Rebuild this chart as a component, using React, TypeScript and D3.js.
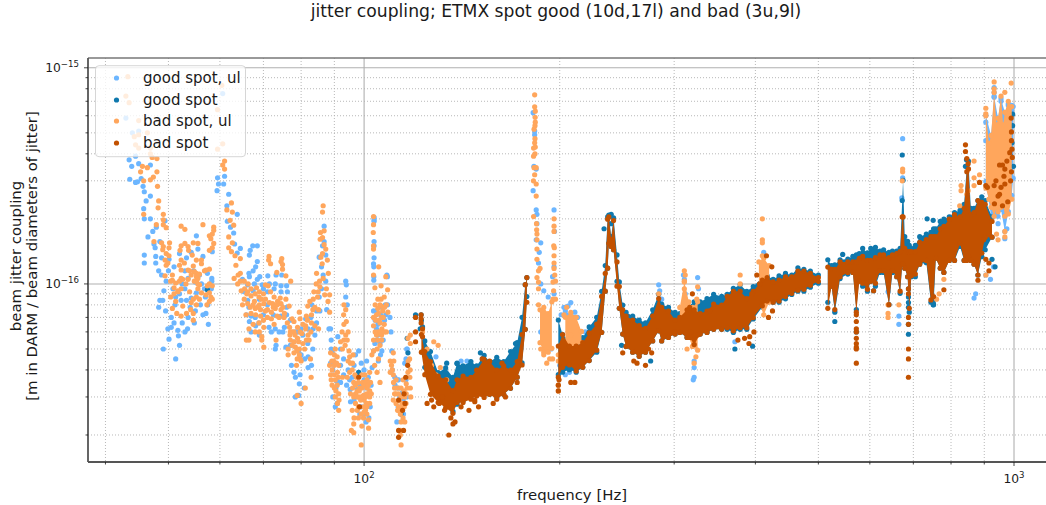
import React from "react";
import * as d3 from "d3";

type P = [number, number];
type B = [number, number, number];

const chartTitle = "jitter coupling; ETMX spot good (10d,17l) and bad (3u,9l)";
const xAxisLabel = "frequency [Hz]";
const yAxisLines = ["beam jitter coupling", "[m in DARM / beam diameters of jitter]"];
const legendNames = ["good spot, ul", "good spot", "bad spot, ul", "bad spot"];
const xDomain = [37.6, 1120];
const yDomain = [1.5e-17, 1.11e-15];
const unit = 1e-16;

// values: [frequency Hz, coupling in 1e-16]
const goodUlPoints: P[] = [
[43,5.85],[45,5.1],[44,5],[43.5,3.75],[43.9,3.5],[44.5,3.9],[45,3.6],[43.6,3.05],[44.5,2.95],[44.8,2.97],[45.4,3.07],[46.9,3.55],[45.7,2.83],[45.9,2.67],[46.9,2.55],[46.2,2.42],[45.8,2.23],[45.9,2],[46.9,2],[49.4,1.96],[47.9,1.83],[47.3,1.75],[46.5,1.65],[47.5,1.53],[47.7,1.47],[48.5,1.57],[45.9,1.36],[47.8,1.34],[48.8,1.32],[50.1,1.3],[52,1.38],[53.3,1.32],[54.2,1.4],[55.2,1.67],[55.5,1.45],[56.5,1.34],[58.4,1.41],
[60.6,7.6],[59.5,3.1],[59.7,2.9],[59.4,2.7],[61,3.15],[60.8,2.9],[61.9,2.6],[61.5,2.3],[63.8,2.1],[61.6,1.95],[63,1.72],[62.3,1.83],[63.2,1.53],[64.5,1.46],[63.8,1.39],[66.8,1.43],[66.6,1.36],[67.4,1.5],[68.5,1.5],[68.5,1.27],
[85.3,1.33],[86.3,1.5],[86.8,1.85],[86.8,1.57],[87.3,1.36],[103.6,1.57],[103.6,1.32],[103.6,1.95],
[49.1,.5],[51.3,.45],[50.1,.555],[49.9,.62],[51.8,.575],[50.5,.63],[50.5,.7],[48.3,.78],[48.5,.84],[49,.84],[49.2,.93],[49.6,1.03],[53,.6],[51.7,.61],[53.6,.7],[51.2,.8],[51.3,.87],[52.3,.84],[53.3,.84],[54.2,.86],[57.1,.73],[57.6,.65],[58.3,1.06],[58.3,1.03],[55.2,.91],[56.2,1],[56.8,.95],[57.4,1.12],[53.6,1.06],[54.7,1.15],[48.8,1.1],[48.3,1.15],[47.8,1.25],[45.9,1.25],[52.5,1],[55,1.02],[57,.87],[50,1.15],[51,1.2],
[50.8,.95],[52,.9],[53,.95],[54,.78],[55,.75],[56,.8],[56.5,.72],[57.5,.8],[58.2,.95],[51,.66],[52.5,.66],[53.5,.62],[52,.52],[54.8,.66],[55.8,1.1],[53,1.15],[49.5,.75],
[68.1,1.2],[66.6,1.08],[69.1,1.08],[71.1,1.09],[73.2,1.1],[74.7,1.1],[67.8,1],[69.7,.99],[66.2,.99],[65.4,.92],[66.2,.84],[67,.71],[65.9,.72],[66.6,.67],[68.1,.64],[68.9,.66],[71,.92],[74.5,.92],[76.2,.92],[72.7,.95],[74.5,.71],[75.4,.63],[73.2,.52],[73,.5],[71.4,.63],[75.8,.51],[77.3,.42],[78,.39],[78.4,.37],[79.7,.38],[79.5,.345],[80.9,.33],[82,.41],[78.4,.3],[79.3,.305],[78,.54],[79.3,.49],[81.9,.53],[83.4,.5],[84,.58],[82.8,.7],[81.3,.69],[83.1,.8],[85.3,.87],[86,1.2],[87.3,1.03],[87.6,.76],[88.3,.62],[88.8,.62],[91.1,.57],[93.7,1.03],[93.9,.99],[93.7,.87],[94.2,.8],[89.3,.49],[88.8,.43],[90.9,.355],[90.9,.28],[90.3,.27],[95.3,.285],[98.1,.49],[98.1,.39],[100.9,.44],[102.9,.41],[101.7,.24],[100.7,.23],[95.9,.37],[97.6,.325],[95.2,.325],[67.5,.93],[69,.85],[71,.8],[72.5,.72],[76,.78],[77,.68],[79,.6],[80.5,.58],[82,.62],[80,.47],[84.5,.66],[92,.5],[93,.45],[89.5,.4],[92,.42],[94.5,.4],[98.8,.34],[100,.36],[101,.33],[96.5,.29],[99,.27],
[65,1.05],[66.5,1.12],[67.5,1.15],[68.5,1.05],[70,.95],[71.5,1],[73,1],[74.5,.98],[76,.98],[75,.6],[76,.72],[77,.52],[78.5,.6],[80,.62],[81,.45],[82,.46],[83,.42],[83.5,.62],[84.5,.75],[85.5,.75],[86,.95],[86.5,1.1],[70,.72],[72,.6],[73,.62],[74,.6],[68,.7],[66.5,.78],[67,.6],[69,.58],[89,.55],[89,.5],[90,.43],[89.5,.3],[90.5,.33],[92,.35],[93,.38],[94,.34],[95,.36],[96.5,.42],[97,.47],[99,.43],[100,.4],[101.5,.37],[102.5,.34],[100,.25],[98.5,.25],[102.2,.27],[104,.68],[105,.58],[106.5,.78],[108,.72],[106,.47],[110.5,.4],[111.5,.37],[113,.36],[112.8,.33],[114.8,.29],[113.8,.26],[116,.36],[116.3,.3],
[103.4,1.24],[108.4,1.1],[107.8,.8],[103.4,.75],[104.6,.75],[108.7,.8],[109.6,.7],[110,.6],[104.6,.55],[105.8,.53],[106.5,.49],[103.9,.53],[107,.55],[105.2,.44],[110.3,.49],[103.4,.49],[105,.65],[106,.6],[107.5,.68],[104.5,.62],[106,.72],
[103.6,2.03],[103.6,1.98],[103.6,1.5],[103.5,1.2],[103.5,1.08],[103.5,1.04],[108.6,1.08],
[111.6,.34],[112.3,.23],[112.6,.36],[114.6,.315],[116,.45],[116.3,.5],[116.5,.5],[115.5,.43],[113.5,.3],[112.8,.27],[115,.25],
[134,.385],[141,.44],[144,.44],[153,.44],[126,.42],[129,.46],
[182,6.2],[183,5.1],[183,4.9],[182.5,3.5],[182,2.7],[184,3.4],[184,2.2],[184.5,2.1],[184.5,1.9],[184,1.6],[187,1.55],[185.5,1.25],[187,1],[189,.93],[192,.87],[186,1.4],
[196,2.2],[196.3,1.75],[195,1.08],[196,1.2],[196,.9],[188,.75],[190,.55],[192,.6],[187,.6],[194,.5],
[200,.47],[208,.82],[203,.78],[206,.79],[211,.74],[209,.68],[215,.6],[219,.6],[200,.42],[204,.38],[207,.39],[205,.72],[212,.64],[201,.72],[204,.75],[210,.7],[213,.7],
[284,.99],[285,.93],[287,.85],[311,1.05],[310,1.1],[312,.9],[326,1.07],[322,.44],[322,.41],[322,.37],[321,.36],[327,.95],
[530,.75],[372,.54],[674,4.7],[674,3.1],[672,2.5],[665,.71],[665,.65],[640,.92],[905,1.1],[920,1.05],[930,1.2],[868,.86],[873,.9],[410,1.25],[412,1.4],[414,1.15]
];

const goodUlBand: B[] = [[905,2.9,6.2],[922,2,5],[932,2.05,7.6],[945,2,6],[955,2.15,7.4],[968,1.7,6.4],[980,2.1,7],[992,2.5,6.5],[997,3,6.8]];
const goodUlTop: P[] = [[932,8.1],[932,7.7],[932,7.3],[955,7],[980,6.7],[992,6.7],[905,5.6],[905,4.6],[968,1.62],[975,1.8],[945,1.9]];

const goodBandA: B[] = [[123,.47,.65],[124,.4,.56],[126.5,.34,.5],[130,.29,.4],[133.5,.27,.42],[137,.25,.38],[139,.27,.44],[142,.28,.43],[146,.29,.45],[149,.3,.43],[153,.3,.48],[156,.3,.45],[160,.29,.47],[164,.3,.45],[168,.32,.5],[172,.36,.55],[175,.42,.72],[177,.6,1.02],[178,.85,1.1]];
const goodBandB: B[] = [[199,.37,.7],[202,.38,.6],[207,.39,.56],[212,.38,.55],[217,.4,.58],[222,.43,.65],[228,.47,.72],[232,.58,.95],[235,.9,1.25],[237,1.15,2.1],[238,1.5,2.14],[240,1.45,1.7],[242,1.4,2.08],[245,1,1.4],[247,.75,1.05],[250,.57,.82],[253,.5,.76],[259,.47,.73],[265,.45,.7],[271,.47,.68],[278,.53,.78],[284,.59,.92],[287,.53,.83],[294,.55,.8],[301,.57,.76],[306,.58,.75],[314,.55,.8],[322,.52,.85],[329,.57,.85],[337,.58,.88],[345,.6,.92],[355,.6,.9],[362,.6,.92],[370,.58,.98],[379,.6,1.02],[388,.6,.95],[397,.67,1],[410,.76,1.1],[417,.8,1.12],[426,.8,1.08],[435,.8,1.12],[445,.83,1.15],[455,.87,1.13],[465,.9,1.22],[475,.9,1.2],[486,.94,1.18],[500,.98,1.13]];
const goodBandC: B[] = [[517,.8,1.33],[524,.95,1.25],[530,.72,1.26],[540,1.03,1.33],[555,1.08,1.34],[565,1.1,1.38],[572,.74,1.4],[578,1.05,1.42],[585,.95,1.5],[595,.9,1.43],[602,1,1.5],[612,.95,1.52],[622,1.1,1.46],[630,1.1,1.48],[642,.78,1.44],[650,1.1,1.46],[660,1.05,1.46],[668,.88,1.5],[673,1.2,2.5],[675,1.2,3.1],[679,1.15,1.7],[686,1.05,1.62],[690,.72,1.55],[695,1.05,1.5],[705,1.05,1.55],[716,1.2,1.7],[733,1.22,1.75],[745,.8,1.78],[752,.78,1.85],[758,1.28,1.85],[770,1.15,2],[780,1.1,2.05],[795,1.25,2.1],[810,1.25,2.2],[826,1.45,2.25],[838,1.25,2.4],[846,1.3,3.6],[851,1.3,3.8],[858,1.25,2.3],[868,1.2,2.3],[880,1.07,2.5],[892,1.3,2.6],[903,1.4,2.5],[925,1.6,2.1]];
const goodPoints: P[] = [[57.4,.94],[98.1,.39],[114,.25],[116.8,.48],[116.5,.56],[120,.72],[122.4,.72],[122.5,.68],[141,.38],[152,.45],[139,.43],[134,.43],[151,.48],[161,.43],[169,.48],[171,.53],[530,.67],[372,.5],[396,.515],[608,.93],[751,.85],[751,.8],[751,.82],[688,.95],[688,.87],[688,.82],[688,.78],[688,.65],[688,.585],[572,.6],[673,3.95],[845,3.75],[735,2],[751,1.97],[842,3.5],[762,1.75],[935,1.2],[925,1.3],[988,3.9],[993,4.5],[995,6.1],[995,5.4],[998,3.5],[122,.62],[234,1.8],[240,1.9],[545,1.37],[606,1.4],[240,2.1],[276,.44],[249,.52]];

const badUlPoints: P[] = [
[43.3,9.1],[43,7.4],[43.5,6.9],[45,5.7],[46.4,5],[45,4.9],[44.3,4.8],[44.5,4.4],[45,4.25],[46.9,4.25],[46.9,4],[48,3.8],[47.2,3.85],[45.6,3.5],[46.4,3.45],[45.3,3.3],[48,3.3],[45.8,3],[46.9,3.03],[47.4,3.12],[48.1,2.83],[48.3,2.42],[48.2,2.25],[45.8,2.1],[49.1,2.1],[49.1,1.98],[47.9,1.88],[49.1,1.88],[49.6,1.82],[47.5,1.57],[48.8,1.55],[50.2,1.55],[49.1,1.49],[50.1,1.47],[49,1.44],[49.6,1.38],[50.1,1.35],[49.4,1.29],[52.3,1.85],[53,1.79],[56.5,1.88],[53,1.54],[52.3,1.5],[53.6,1.49],[52.1,1.43],[53.7,1.43],[54.6,1.55],[55.5,1.54],[54.4,1.36],[56.2,1.29],[52.3,1.29],[55.2,1.29],[58.7,1.83],[58.7,1.77],[58.4,1.7],[57.8,1.67],[58.1,1.62],[58.7,1.54],[58.4,1.47],[57.8,1.43],
[60.4,8.3],[59.5,6.4],[59.5,4.2],[60.6,4.45],[61,3.7],[60.6,3.55],[61,3.4],[61.5,2.2],[62.5,2.37],[62.7,2.15],[62.2,1.97],[63,1.87],[61.9,1.65],[62.7,1.55],[61.9,1.47],[62.5,1.41],[63.3,1.35],[64.5,1.31],[71.4,1.34],[71.3,1.29],[74.7,1.31],[74.5,1.27],
[86.5,2.3],[86.3,2.15],[85.7,1.73],[86.8,1.76],[86.3,1.64],[85.6,1.61],[86.8,1.52],[87.3,1.45],[86.3,1.38],[85.8,1.33],[87.8,1.29],[103.4,2.05],[103.4,1.88],[103.3,1.73],[103.4,1.5],[103.4,1.45],
[49.6,1.22],[49.9,1.25],[50.7,1.1],[49.4,1.09],[52,1.22],[52.9,1.25],[53.9,1.15],[55.2,1.12],[56.2,1.24],[56.8,1.15],[57.8,1.17],[54.6,1.21],[50.7,1.04],[52,1.03],[52.6,1.05],[53.6,1.05],[55.2,1.03],[55.8,.99],[55.5,1.06],[57.8,1],[58.4,.98],[51,.96],[51.7,.92],[52.3,.95],[53.9,.92],[54.6,.85],[55.2,.87],[55.8,.85],[58.1,.87],[57.8,.83],[57.3,.8],[57.1,.89],[51.3,.83],[50.7,.77],[51.5,.73],[52.3,.71],[53.3,.73],[54.1,.76],[54.6,.73],[54.6,.68],[50.4,.87],[52.6,.79],[55.5,.95],
[50.4,1.03],[51.3,1.01],[52.3,1.06],[53.2,1],[54.2,1.1],[54.8,1.03],[55.5,1],[55.2,1.08],[52.3,1.16],[53.6,1.16],[54.8,1.14],[55.8,1.11],[57.1,1.16],[51.7,.93],[51,.9],[54.2,.82],[55.2,.8],[56.2,.91],[57.8,.91],[57.4,.98],[58.4,.85],
[63.1,1.06],[63.5,1.22],[64.5,1.12],[65.4,1.03],[63.9,1],[64.7,.93],[66.2,.92],[65.4,.85],[65,.8],[66.2,.81],[65.8,.72],[67,.73],[68.1,.72],[66.5,.62],[65.9,.55],[66.5,.55],[67.8,.83],[68.9,.87],[70.1,.81],[70.5,.99],[71.8,.92],[72.7,.87],[74.5,.81],[73.6,.83],[75.8,.85],[72.3,.81],[71,.76],[69.3,.76],[69.3,.71],[68.9,.66],[70.1,.63],[69.6,.57],[69.6,.55],[70.1,.51],[72.7,.65],[73.2,.55],[71.8,1.24],[74.9,1.23],[74.9,1.17],[75.8,1.09],[77.1,1.03],[73.4,1.13],[74,.7],[75.4,.73],[76.7,.79],[77.5,.69],[78,.67],[79.5,.74],[79.7,.69],[76.9,.58],[78,.54],[78.4,.51],[79.3,.54],[76.4,.5],[78.9,.45],[79.7,.45],[76.4,.47],[80.2,.59],[81.3,.62],[82.8,.6],[81.3,.64],[84,.64],[85.1,.62],[81.9,.79],[83.4,.76],[85.1,.76],[83.7,.92],[84.4,1],[85.4,1.03],[84.5,1.12],[86.2,1.24],[88.1,1.12],[87.5,.95],[88.5,.89],[88,.83],[80,.44],[82.7,.45],[82.9,.37],[81.2,.33],[78.9,.305],[80,.28],[77.5,.52],[78.8,.49],[79.5,.5],[77,.6],[78,.6],[79,.56],[80.5,.53],[81.5,.55],[82,.58],[83,.66],[83,.72],[81.5,.71],[82.5,.83],[68,.77],[69,.8],[70.5,.75],[72,.74],[73,.77],[74.5,.76],[73.5,.71],[72,.69],[71,.7],[70,.68],[67.5,.65],[68,.6],[69,.6],[66.8,.78],[68,.9],
[66,.9],[67,.88],[67.5,.8],[68.5,.78],[69.5,.85],[70.5,.85],[71.5,.82],[72.5,.78],[73.5,.8],[74.3,.86],[75,.78],[75.3,.7],[76.2,.66],[76.8,.63],[77.5,.6],[78.3,.58],[79,.63],[79.7,.6],[80.5,.65],[81.8,.68],[82.3,.55],[81,.5],[79.5,.47],[78,.48],[77,.55],[78.7,.42],[84,.78],[84.8,.87],[85,.92],[83.5,.85],[85.5,.97],[86.5,1.06],[87,.89],[88.5,.74],[65.5,.95],[64.5,1.03],[64,1.1],[66.3,1],[67,.95],[68.3,.96],[69,.92],[70,.9],[71.2,.98],
[88.8,.48],[89.3,.4],[88.8,.38],[90.9,.46],[91.4,.42],[92.6,.37],[90.3,.36],[90.9,.34],[90.3,.3],[91.4,.31],[91.4,.26],[93.1,.8],[93.7,.76],[93.1,.65],[93.9,.67],[93.7,.58],[93.1,.55],[92,.54],[94.2,.55],[92.6,.5],[90.3,.5],[94.8,.49],[96.2,.47],[95.3,.43],[95.9,.4],[94.2,.37],[96.4,.35],[97.6,.32],[95.3,.31],[96.4,.3],[98.1,.3],[97,.28],[95.9,.26],[97.6,.26],[95.6,.21],[96.4,.205],[96.4,.225],[99.2,.38],[100.3,.38],[99.2,.33],[99.8,.305],[100.9,.31],[102,.32],[102.6,.31],[102,.28],[99.8,.27],[100.9,.28],[99.8,.24],[99.2,.22],[101.6,.235],[101.6,.215],[99,.18],[104.7,.39],[102,.39],[105.8,.35],[89.8,.44],[91,.39],[90,.42],[89,.36],[90,.33],[97,.34],[98,.35],[98.5,.33],[100,.34],[101,.36],[101,.33],[97,.31],[98.8,.29],[100,.29],[100.5,.26],[101,.25],
[88.5,.42],[89.2,.44],[90,.47],[90.7,.43],[91.3,.37],[90,.38],[89.3,.34],[90.5,.32],[91.5,.29],[91,.28],[93,.72],[92.5,.6],[93.5,.52],[94.5,.6],[95,.46],[96,.43],[94.5,.44],[95,.39],[96.8,.38],[97.3,.37],[96,.33],[97.5,.3],[98.3,.32],[99.5,.35],[100.5,.35],[101.5,.34],[99,.3],[100.5,.3],[98,.27],[99,.25],[100,.255],[101,.27],[102,.3],[98,.24],[96.5,.24],[102.3,.35],
[103.4,1.1],[105.3,1.2],[108,1.08],[103.9,.96],[106.2,.98],[108.7,.94],[106.2,.85],[107.4,.87],[108.2,.8],[106.2,.79],[108.8,.74],[105.2,.73],[107,.7],[103.4,.7],[105.8,.66],[107.4,.65],[103.4,.64],[105.2,.6],[106.4,.58],[108.2,.6],[103.4,.55],[106.4,.55],[103.4,.49],[102.8,.47],[104.7,.5],[105.2,.45],[104.2,.68],[105,.77],[106.5,.7],[104.5,.58],[105.8,.52],[104,.8],[105,.85],[105.8,.8],[106.8,.75],[107.5,.78],[104.5,.72],[105.5,.68],[106.5,.62],[107.5,.6],[104,.6],[105,.55],[106,.6],[103.8,.42],
[110.9,.48],[109.7,.44],[111.1,.44],[110.2,.42],[109.7,.39],[110.9,.38],[112,.36],[111.4,.33],[111.4,.31],[110.9,.29],[112,.28],[113.2,.29],[114.4,.28],[116.1,.345],[116.1,.31],[115.3,.27],[113.7,.25],[112.6,.26],[114.8,.24],[113.7,.21],[113.7,.2],[114,.18],[116.8,.56],[116.9,.44],[116.8,.39],[114.8,.36],[115.2,.32],[113,.27],[112,.31],[113,.31],[114,.3],[110.5,.4],[111,.35],[112,.33],[113,.33],[114,.33],[115.5,.3],[116,.28],[114.5,.27],[113,.26],[114,.23],[115.5,.23],[116.5,.33],
[117.8,.58],[117.8,.53],[117.5,.45],[117.7,.4],[117.6,.37],[117.8,.33],[118,.3],[128,.54],[130,.52],[127,.42],[131,.41],[129,.38],[134,.36],[123,.6],[125,.5],
[183,7.5],[183,6.6],[183.4,6.3],[183.4,5.6],[183.2,5.4],[182.6,5.2],[183.2,4.7],[183,4.5],[183.4,4.3],[182.3,4.25],[183.2,4],[182.3,3.9],[182.6,3.45],[184,3.45],[182.2,3],[184,2.9],[184,2.55],[182.3,2.05],[184.2,1.9],[184.5,1.7],[184.5,1.45],[185.5,1.15],[186.5,1.18],[184.5,1.07],[185.5,1.02],[185.5,.95],[185.5,.8],[184.5,1.3],[184.5,1.6],[184.3,1.78],[183.3,5.9],[183,3.2],
[196,2],[196,1.85],[196,1.75],[195.8,1.5],[196.2,1.47],[196,1.35],[196,1.25],[196,1.18],[196.5,1.1],[197,1.03],[195.3,1.02],[195.7,.93],[195.3,.85],[197,.85],
[208,.58],[203,.72],[205,.78],[210,.5],[189,.47],[191,.43],[187,.5],[195,.45],[193,.45],[199,.34],[199,.32],[199,.47],[199,.44],
[311,1.15],[312,1.1],[311,1.03],[311,.95],[326,.97],[325,.85],[322,.75],[314,.5],[324,.46],[322,.43],[284,.9],[379,1.1],[379,1],[410,2],[410,1.6],[410,1.55],[410,1.35],
[905,6.5],[932,8.6],[932,8],[968,7.7],[990,8.5],[905,6],[885,2.95],[868,3.7],[868,3.1],[846,2.6],[868,2.85],[850,2.7],[829,2.85],[829,2.7],[825,2.3],[780,1.05],[767,.9],[760,.85],[674,3.4],[674,3.3],[673,3],[665,.8],[640,.8],[640,.7],[640,.73],[940,1.7],[945,1.6],[968,1.65],[968,1.75],[885,3.2],[905,1.1]
];
const badUlBlobA: B[] = [[186.5,.52,.78],[189,.47,.8],[192,.47,.75],[194.5,.49,.85]];
const badUlBlobB: B[] = [[204,.52,.72],[208,.5,.76],[212,.5,.72],[216,.52,.62]];
const badUlBlobC: B[] = [[306,.6,.8],[311,.62,1.05],[316,.55,.85],[320,.5,.8],[326,.48,.85]];
const badUlBlobD: B[] = [[405,.8,1.3],[412,.7,1.35],[420,.8,1.25]];
const badUlBlobE: B[] = [[905,2.7,6.3],[915,2.4,4.6],[922,2.2,5],[932,2,7.9],[940,2.2,5.6],[945,2.1,6],[955,2.2,7.6],[962,2.3,5.6],[968,2,6.4],[980,2.05,7.2],[992,2.4,6.8]];

const badBandA: B[] = [[122.5,.47,.6],[124,.37,.5],[126.5,.3,.45],[130,.275,.385],[133.5,.26,.37],[137,.245,.33],[139,.275,.37],[142,.275,.385],[146,.285,.38],[149,.295,.41],[153,.29,.46],[156,.3,.45],[160,.285,.41],[164,.3,.43],[168,.32,.41],[172,.36,.45],[175,.41,.6],[177,.6,1.02],[178,.8,1.1]];
const badBandB: B[] = [[199,.36,.53],[202,.4,.6],[207,.41,.53],[212,.385,.53],[217,.4,.55],[222,.43,.61],[228,.48,.67],[232,.58,.9],[235,.9,1.15],[237,1.15,2.05],[238,1.5,2.1],[240,1.45,1.65],[242,1.4,2.02],[245,.95,1.3],[247,.75,1],[250,.57,.78],[253,.5,.73],[259,.47,.7],[265,.45,.66],[271,.47,.64],[278,.53,.73],[284,.59,.88],[287,.53,.8],[294,.55,.77],[301,.57,.7],[306,.58,.72],[314,.55,.78],[317,.55,.8],[322,.51,.78],[329,.57,.75],[337,.58,.77],[345,.6,.83],[355,.6,.82],[362,.61,.9],[370,.59,.95],[379,.61,.95],[388,.61,.88],[397,.68,.95],[410,.77,1.07],[417,.81,1.1],[426,.8,1.05],[435,.81,1.07],[445,.85,1.11],[455,.88,1.11],[465,.91,1.18],[475,.92,1.18],[486,.96,1.15],[500,1,1.1]];
const badBandC: B[] = [[517,.75,1.23],[524,.95,1.2],[530,.74,1.2],[540,1.05,1.3],[555,1.1,1.3],[565,1.1,1.3],[572,.72,1.3],[578,1,1.35],[585,.98,1.38],[595,.92,1.32],[602,1,1.32],[612,.98,1.36],[622,1.12,1.4],[630,1.12,1.4],[642,.78,1.36],[650,1.12,1.4],[660,1.05,1.42],[668,.9,1.45],[673,1.2,2.1],[675,1.2,2.1],[679,1.15,1.5],[686,1.05,1.45],[690,.75,1.45],[695,1.06,1.45],[705,1.08,1.45],[716,1.2,1.6],[733,1.25,1.65],[745,.82,1.7],[752,.85,1.7],[758,1.28,1.7],[770,1.15,1.85],[780,1.1,1.9],[795,1.25,2.05],[810,1.25,2.15],[826,1.5,2.1],[838,1.25,2.3],[846,1.25,3.4],[851,1.3,3.5],[858,1.25,2.15],[868,1.2,2.2],[880,1.07,2.5],[892,1.35,2.45],[903,1.6,2.4],[925,1.6,2]];
const badPoints: P[] = [[98.1,.37],[98.4,.27],[113,.29],[115.2,.31],[115.6,.28],[115.9,.37],[116.7,.42],[114.6,.26],[113,.21],[113,.195],[115,.21],[120,.7],[120,.6],[120,.54],[122.4,.72],[122.4,.69],[122.4,.66],[123,.62],[123,.57],[125,.28],[127,.29],[133,.26],[136,.24],[137,.225],[138,.23],[135,.2],[130.5,.28],[141,.27],[145,.26],[150,.27],[148,.285],[132,.3],[154,.31],[199,.34],[199,.32],[199.5,.36],[208,.35],[211,.35],
[572,.72],[572,.67],[572,.62],[572,.6],[572,.56],[572,.53],[572,.51],[572,.5],[572,.43],[688,.7],[688,.65],[688,.5],[688,.45],[688,.37],[688,.9],[688,.95],[780,.94],[608,.93],[915,1.15],[905,1.3],[898,1.6],[880,1.04],[842,4.4],[842,4.1],[846,3.8],[850,3.6],[915,1.25],
[990,5.85],[991,5.05],[991,4.6],[993,4.2],[994,3.85],[950,3.55],[960,3.55],[968,3.4],[965,3.15],[991,3.3],[988,3],[932,2.85],[968,2.9],[938,3],[955,2.8],[933,2.35],[885,2.95],[905,2.85],[910,2.8],[978,2.4],[960,2.3],[950,2.6],[945,2.55],[985,4.05],[975,3.7],[340,.75],[300,.6],[416,1.35],[424,1.2],[402,1.1],[406,1],[395,.9],[320,.9],[318,.6],[326,.58],[271,.42],[250,.48],[260,.44],[263,.43],[277,.48],[274,.5],[385,.56],[391,.53],[376,.55],[392,.57],[398,.6],[419,.7],[425,.75],
[152,.45],[156,.44],[163,.43],[158,.28],[165,.3],[172,.35],[148,.29],[127,.31],[128,.27]
];

const colors = ["#6cb6ff", "#0f78ad", "#ffa65c", "#c25100"];
const W = 1046, H = 505, L = 88, B0 = 462, T = 58;
const R = 2.6;

const x = d3.scaleLog().domain(xDomain).range([L, W]);
const y = d3.scaleLog().domain(yDomain).range([B0, T]);
const px = (f: number) => x(f);
const py = (c: number) => y(c * unit);

const xMajor = [100, 1000];
const yMajor = [1e-16, 1e-15];
const xTicks = x.ticks().filter((t) => t >= xDomain[0] && t <= xDomain[1]);
const yTicks = y.ticks().filter((t) => t >= yDomain[0] && t <= yDomain[1]);
const near = (a: number, b: number) => Math.abs(a / b - 1) < 1e-6;
const isMaj = (t: number, m: number[]) => m.some((v) => near(t, v));
const expo = (t: number) => Math.round(Math.log10(t));

// band rows hold the outer edge of the saturated marker cloud, so markers sit one radius inside
const area = d3.area<B>().x((d) => px(d[0])).y0((d) => py(d[1]) - R).y1((d) => py(d[2]) + R);

function Dots({ pts, fill }: { pts: P[]; fill: string }) {
  return <g fill={fill}>{pts.map((d, i) => <circle key={i} cx={px(d[0])} cy={py(d[1])} r={R} />)}</g>;
}
function Band({ rows, fill }: { rows: B[]; fill: string }) {
  return (
    <g fill={fill}>
      <path d={area(rows) || ""} />
      {rows.map((d, i) => (
        <g key={i}>
          <circle cx={px(d[0])} cy={py(d[1]) - R} r={R} />
          <circle cx={px(d[0])} cy={py(d[2]) + R} r={R} />
        </g>
      ))}
    </g>
  );
}

const font = "'DejaVu Sans', sans-serif";
const ink = "#1a1a1a";

export default function App() {
  const legendY = [78, 100, 121, 143];
  return (
    <svg width={W} height={H} style={{ position: "absolute", left: 0, top: 0 }} fontFamily={font}>
      <rect width={W} height={H} fill="#fff" />
      <text x={556} y={17} textAnchor="middle" fontSize={17.2} fill={ink}>{chartTitle}</text>
      <g>
        {xTicks.map((t) => (
          <line key={t} x1={px(t)} x2={px(t)} y1={T} y2={B0}
            stroke="#b0b0b0" strokeWidth={isMaj(t, xMajor) ? 1.1 : 0.9}
            strokeDasharray={isMaj(t, xMajor) ? undefined : "1,2"} />
        ))}
        {yTicks.map((t) => (
          <line key={t} x1={L} x2={W} y1={py(t / unit)} y2={py(t / unit)}
            stroke="#b0b0b0" strokeWidth={isMaj(t, yMajor) ? 1.1 : 0.9}
            strokeDasharray={isMaj(t, yMajor) ? undefined : "1,2"} />
        ))}
      </g>
      <Dots pts={goodUlPoints} fill={colors[0]} />
      <Band rows={goodUlBand} fill={colors[0]} />
      <Dots pts={goodUlTop} fill={colors[0]} />
      <Band rows={goodBandA} fill={colors[1]} />
      <Band rows={goodBandB} fill={colors[1]} />
      <Band rows={goodBandC} fill={colors[1]} />
      <Dots pts={goodPoints} fill={colors[1]} />
      <Band rows={badUlBlobA} fill={colors[2]} />
      <Band rows={badUlBlobB} fill={colors[2]} />
      <Band rows={badUlBlobC} fill={colors[2]} />
      <Band rows={badUlBlobD} fill={colors[2]} />
      <Band rows={badUlBlobE} fill={colors[2]} />
      <Dots pts={badUlPoints} fill={colors[2]} />
      <Band rows={badBandA} fill={colors[3]} />
      <Band rows={badBandB} fill={colors[3]} />
      <Band rows={badBandC} fill={colors[3]} />
      <Dots pts={badPoints} fill={colors[3]} />

      <line x1={L} x2={W} y1={T} y2={T} stroke="#777" strokeWidth={1.3} />
      <line x1={L} x2={L} y1={T} y2={B0} stroke="#555" strokeWidth={1.8} />
      <line x1={L} x2={W} y1={B0} y2={B0} stroke="#555" strokeWidth={1.8} />
      {xTicks.map((t) => (
        <line key={t} x1={px(t)} x2={px(t)} y1={B0} y2={B0 + (isMaj(t, xMajor) ? 4 : 2.5)} stroke={ink} strokeWidth={0.8} />
      ))}
      {yTicks.map((t) => (
        <line key={t} x1={L} x2={L - (isMaj(t, yMajor) ? 4 : 2.5)} y1={py(t / unit)} y2={py(t / unit)} stroke={ink} strokeWidth={0.8} />
      ))}
      {xMajor.map((t) => (
        <text key={t} x={px(t)} y={483} textAnchor="middle" fontSize={12.3} fill={ink}>
          10<tspan dy={-5} fontSize={8.6}>{expo(t)}</tspan>
        </text>
      ))}
      {yMajor.map((t) => (
        <text key={t} x={79} y={py(t / unit) + 4} textAnchor="end" fontSize={12.3} fill={ink}>
          10<tspan dy={-5} fontSize={8.6}>{"\u2212" + Math.abs(expo(t))}</tspan>
        </text>
      ))}
      <text x={572} y={500} textAnchor="middle" fontSize={14.9} fill={ink}>{xAxisLabel}</text>
      {yAxisLines.map((s, i) => (
        <text key={i} transform={`translate(${21 + i * 16},256) rotate(-90)`} textAnchor="middle" fontSize={14.9} fill={ink}>{s}</text>
      ))}

      <rect x={95.5} y={65.7} width={150} height={91} rx={3.5} fill="#fff" fillOpacity={0.8} stroke="#cccccc" strokeOpacity={0.8} />
      {legendNames.map((n, i) => (
        <g key={n}>
          <circle cx={116.5} cy={legendY[i]} r={R} fill={colors[i]} />
          <text x={143} y={legendY[i] + 5} fontSize={15} fill={ink}>{n}</text>
        </g>
      ))}
    </svg>
  );
}
